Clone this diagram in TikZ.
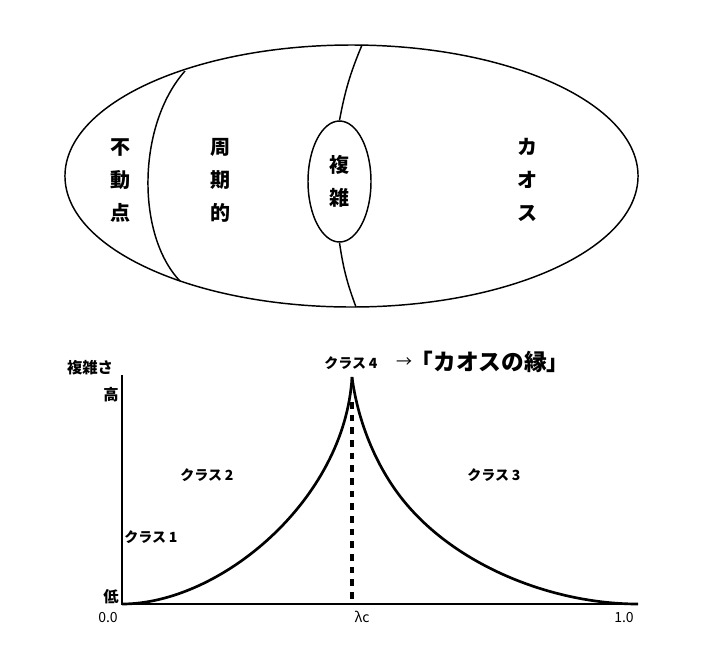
\documentclass[tikz,border=0pt]{standalone}
\usepackage{fontspec}
\setmainfont{Noto Sans CJK JP}
\usetikzlibrary{shapes.geometric}
\begin{document}
\begin{tikzpicture}[x=0.75pt,y=-0.75pt,
    region/.style={font=\bfseries\fontsize{15}{24.75}\selectfont,align=center,inner sep=0pt},
    cls/.style={font=\bfseries\fontsize{10.5}{12}\selectfont},
    axlabel/.style={font=\bfseries\fontsize{11.5}{13}\selectfont},
    tick/.style={font=\fontsize{10.5}{12}\selectfont},
    thin line/.style={line width=1.1pt},
    curve/.style={line width=2pt}]
  \useasboundingbox (0,0) rectangle (714,669);

  % upper ellipse with its regions
  \draw[thin line] (351.5,176) ellipse [x radius=214.9pt, y radius=98.25pt];
  \draw[thin line] (185,71) .. controls (137,125) and (136,235) .. (180,281);
  \node[draw, thin line, ellipse, minimum width=47.25pt, minimum height=90.75pt, region] (cplx) at (339.5,181.5) {複\\雑};
  \coordinate (ctop) at (362,45);
  \coordinate (cbot) at (356,307);
  \draw[thin line] (ctop) to[bend right=6] (cplx.north);
  \draw[thin line] (cplx.south) to[bend right=6] (cbot);

  \node[region] (fixed) at (120,180) {不\\動\\点};
  \node[region] (period) at (220,180) {周\\期\\的};
  \node[region] (chaos) at (527,180) {カ\\オ\\ス};

  % complexity graph
  \coordinate (O) at (122,604);
  \coordinate (ytop) at (122,375);
  \coordinate (xend) at (638,604);
  \coordinate (peak) at (352,377);
  \coordinate (ds) at (352,402);
  \coordinate (lc) at (352,604);
  \coordinate (rmid) at (403,500);

  \draw[line width=2.2pt] (ytop) -- (O) -- (xend);
  \draw[curve] (O) .. controls (220,604) and (345,500) .. (peak);
  \draw[curve] (peak) .. controls (357.7,420.6) and (375.5,465.7) .. (rmid)
               .. controls (456.2,566.3) and (553,604) .. (xend);
  \draw[line width=2.6pt, dash pattern=on 5pt off 4.5pt] (ds) -- (lc);

  \node[axlabel] (cx) at (90,368) {複雑さ};
  \node[axlabel] (high) at (111,395) {高};
  \node[axlabel] (low) at (111,597) {低};
  \node[tick] (t0) at (108,617) {0.0};
  \node[tick] (tc) at (362,617) {λc};
  \node[tick] (t1) at (624,617) {1.0};

  \node[cls, anchor=west, inner sep=0pt] (c1) at (124,537) {クラス\hspace{0.2em}1};
  \node[cls] (c2) at (207,475) {クラス\hspace{0.2em}2};
  \node[cls] (c3) at (494,475) {クラス\hspace{0.2em}3};
  \node[cls] (c4) at (351,363) {クラス\hspace{0.2em}4};
  \node[font=\fontsize{12}{14}\selectfont, inner sep=0pt] (arr) at (404,363) {→};
  \node[font=\bfseries\fontsize{17}{20}\selectfont, inner sep=0pt] (edge) at (490,362) {「カオスの縁」};
\end{tikzpicture}
\end{document}
